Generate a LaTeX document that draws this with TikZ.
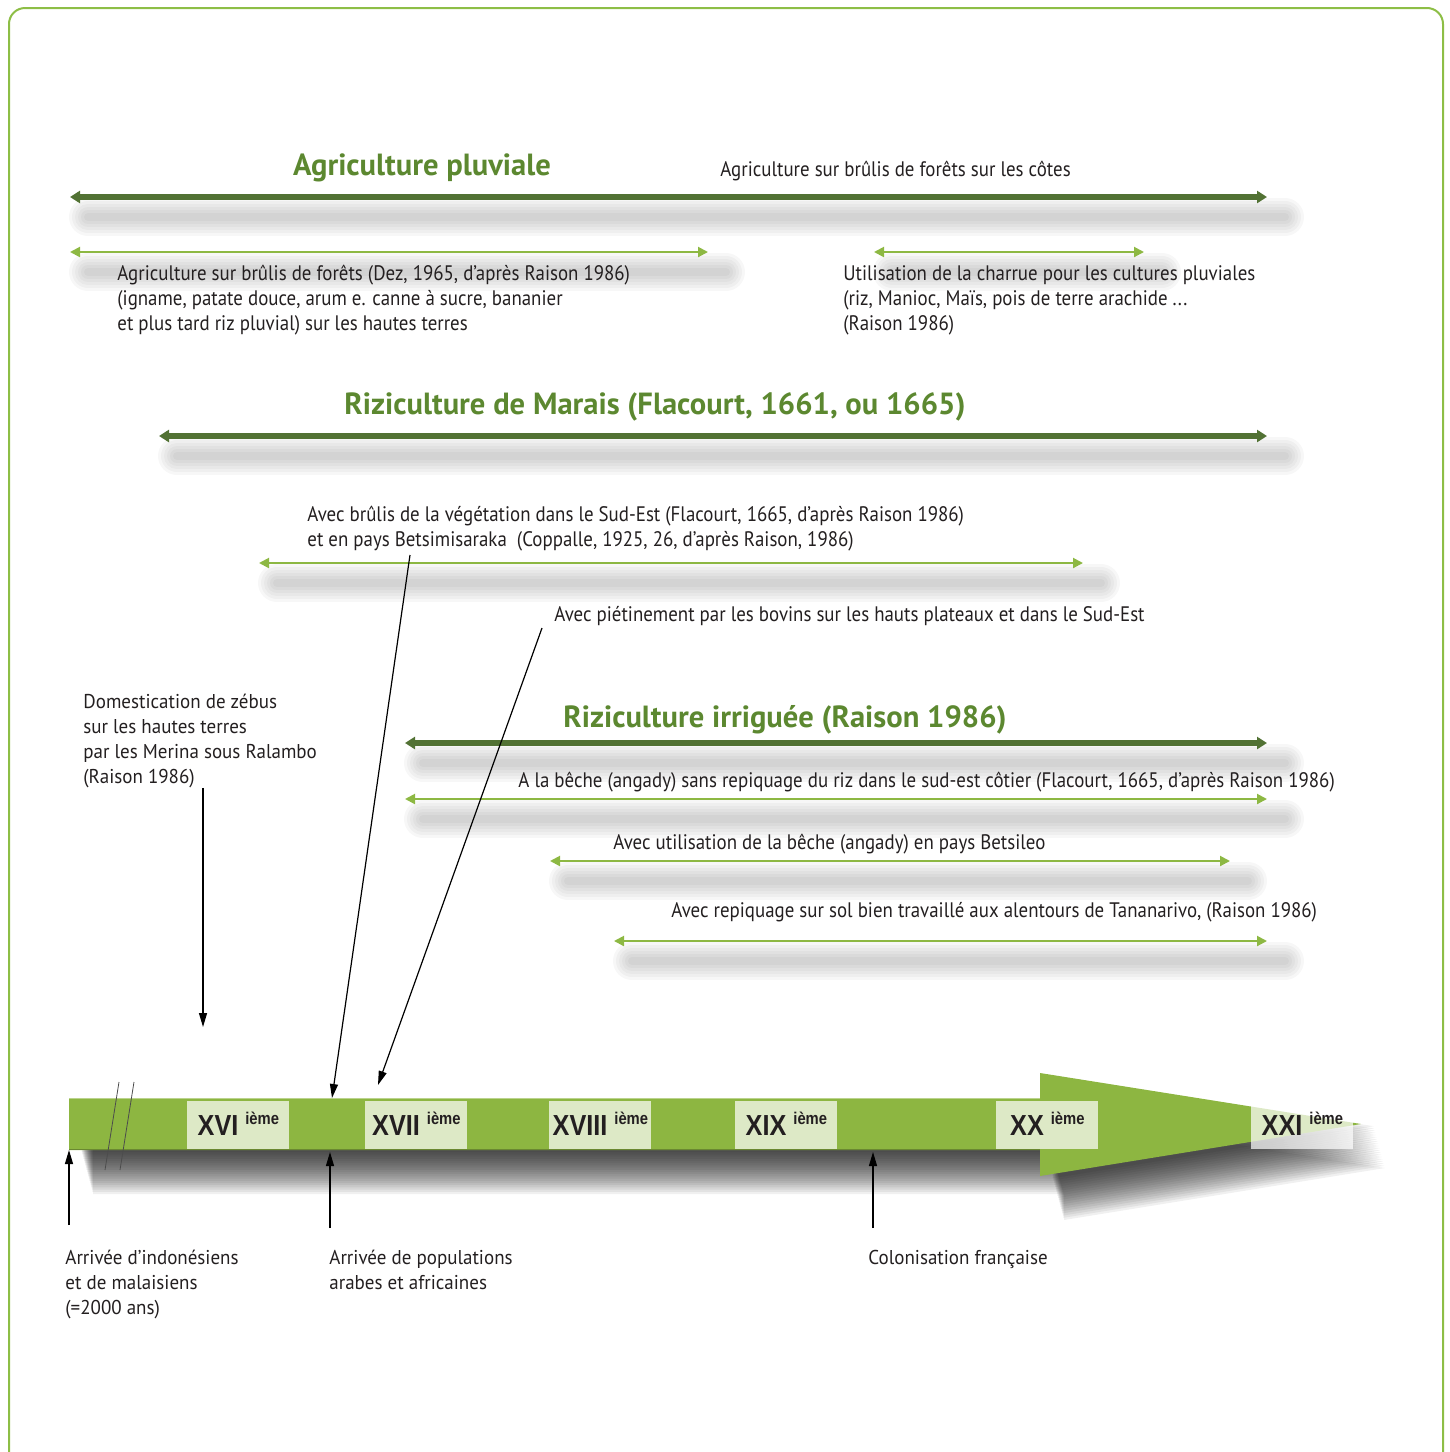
\documentclass[tikz,border=0pt]{standalone}
\usepackage{fontspec}
\setmainfont{PT Sans}
\newfontfamily\condfont[FakeStretch=0.9]{PT Sans}
\newfontfamily\widefont[FakeStretch=0.95]{PT Sans}
\newfontfamily\titlefont{PT Sans}
\newfontfamily\romanfont[FakeStretch=0.87]{Liberation Sans}
\usepackage{tikz}
\usetikzlibrary{arrows.meta,positioning,calc}
\usepackage{xcolor}
\definecolor{agridark}{RGB}{82,114,52}
\definecolor{agrilight}{RGB}{141,184,67}
\definecolor{agrititle}{RGB}{92,136,48}
\definecolor{agribar}{RGB}{141,182,65}
\definecolor{agriframe}{RGB}{141,190,70}
\definecolor{agritext}{RGB}{35,31,32}
\tikzset{
    darkspan/.style={line width=2.6pt, agridark, {Triangle[length=5pt,width=6pt]}-{Triangle[length=5pt,width=6pt]}},
    lightspan/.style={line width=1pt, agrilight, {Triangle[length=5pt,width=5pt]}-{Triangle[length=5pt,width=5pt]}},
    title/.style={font=\titlefont\bfseries\fontsize{15.3}{17}\selectfont, text=agrititle, anchor=base, inner sep=0},
    note/.style={font=\condfont\fontsize{10.5}{12.5}\selectfont, text=agritext, align=left, anchor=base west, inner sep=0},
    plainnote/.style={font=\widefont\fontsize{10}{12.5}\selectfont, text=agritext, align=left, anchor=base west, inner sep=0},
    century/.style={rectangle, fill=white, fill opacity=0.7, text opacity=1, minimum width=51pt, minimum height=24pt, anchor=north west, inner sep=0, text=agritext, font=\romanfont\bfseries\fontsize{14.5}{14.5}\selectfont},
    pointer/.style={line width=0.6pt, black, -{Triangle[length=7pt,width=4pt]}},
}
\newcommand{\ieme}{\smash{\raisebox{5.5pt}{\fontsize{8.5}{8.5}\selectfont i\`eme}}}
\newcommand{\spanshadow}[3]{%
    \foreach \w in {19pt,16pt,13pt,10pt,7pt,4pt}
        \draw[line width=\w, black, opacity=0.03, line cap=round] (#1+18,#3+20) -- (#2+18,#3+20);
}

\begin{document}
\begin{tikzpicture}[x=0.5pt, y=-0.5pt]
    \useasboundingbox (0,0) rectangle (1450,1452);
    \draw[agriframe, line width=1pt, rounded corners=8pt] (9,8) rectangle (1443,1470);

    % Agriculture pluviale
    \spanshadow{70}{1267}{197}
    \spanshadow{70}{708}{252}
    \spanshadow{874}{1144}{252}
    \node[title] (pluv) at (422,175) {Agriculture pluviale};
    \node[note] (cotes) at (720,176) {Agriculture sur brûlis de forêts sur les côtes};
    \draw[darkspan] (70,197) -- (1267,197);
    \draw[lightspan] (70,252) -- (708,252);
    \draw[lightspan] (874,252) -- (1144,252);
    \node[note] (hautes) at (117,330) {Agriculture sur brûlis de forêts (Dez, 1965, d’après Raison 1986)\\(igname, patate douce, arum e. canne à sucre, bananier\\et plus tard riz pluvial) sur les hautes terres};
    \node[note] (charrue) at (843,330) {Utilisation de la charrue pour les cultures pluviales\\(riz, Manioc, Maïs, pois de terre arachide ...\\(Raison 1986)};

    % Riziculture de marais
    \spanshadow{159}{1267}{436}
    \spanshadow{259}{1083}{563}
    \node[title] (marais) at (655,414) {Riziculture de Marais (Flacourt, 1661, ou 1665)};
    \draw[darkspan] (159,436) -- (1267,436);
    \node[note] (brulis) at (307,546) {Avec brûlis de la végétation dans le Sud-Est (Flacourt, 1665, d’après Raison 1986)\\et en pays Betsimisaraka\ \ (Coppalle, 1925, 26, d’après Raison, 1986)};
    \draw[lightspan] (259,563) -- (1083,563);
    \node[note] (bovins) at (554,621) {Avec piétinement par les bovins sur les hauts plateaux et dans le Sud-Est};

    % Riziculture irriguee
    \spanshadow{405}{1267}{743}
    \spanshadow{405}{1267}{799}
    \spanshadow{550}{1230}{861}
    \spanshadow{614}{1267}{941}
    \node[title] (irrig) at (785,727) {Riziculture irriguée (Raison 1986)};
    \draw[darkspan] (405,743) -- (1267,743);
    \node[note] (beche) at (518,787) {A la bêche (angady) sans repiquage du riz dans le sud-est côtier (Flacourt, 1665, d’après Raison 1986)};
    \draw[lightspan] (405,799) -- (1267,799);
    \node[note] (betsileo) at (613,849) {Avec utilisation de la bêche (angady) en pays Betsileo};
    \draw[lightspan] (550,861) -- (1230,861);
    \node[note] (repiq) at (671,917) {Avec repiquage sur sol bien travaillé aux alentours de Tananarivo, (Raison 1986)};
    \draw[lightspan] (614,941) -- (1267,941);

    \node[plainnote] (zebu) at (83,783) {Domestication de zébus\\sur les hautes terres\\par les Merina sous Ralambo\\(Raison 1986)};

    % Time line
    \foreach \i in {1,...,20} {
        \fill[black, opacity=0.06, shift={(12+0.6*\i,2.2*\i)}]
            (69,1098) -- (1040,1098) -- (1040,1073) -- (1361,1124) -- (1040,1176) -- (1040,1150) -- (69,1150) -- cycle;
    }
    \fill[agribar] (69,1098) -- (1040,1098) -- (1040,1073) -- (1361,1124) -- (1040,1176) -- (1040,1150) -- (69,1150) -- cycle;
    \draw[agribar!60!white, line width=0.6pt] (69,1098.5) -- (1040,1098.5);
    \draw[agribar!75!black, line width=0.6pt] (69,1149.5) -- (1040,1149.5);
    \draw[black!70, line width=0.4pt] (119,1082) -- (105,1170);
    \draw[black!70, line width=0.4pt] (134,1082) -- (120,1170);
    \foreach \x/\name/\lbl in {187/c16/XVI, 365/c17/XVII, 549/c18/XVIII, 735/c19/XIX, 996/c20/XX, 1251/c21/XXI}
        \node[century] (\name) at (\x,1101) {\lbl\ \ieme};

    % Pointers
    \coordinate (brulisFrom) at (410,555);
    \coordinate (brulisTo) at (332,1098);
    \coordinate (bovinsFrom) at (542,628);
    \coordinate (bovinsTo) at (378,1085);
    \coordinate (zebuTo) at (203,1027);
    \draw[pointer] (brulisFrom) -- (brulisTo);
    \draw[pointer] (bovinsFrom) -- (bovinsTo);
    \draw[pointer] (zebu.south -| zebuTo) -- (zebuTo);

    \coordinate (indoFrom) at (69,1225);
    \coordinate (indoTo) at (69,1150);
    \coordinate (arabFrom) at (330,1228);
    \coordinate (arabTo) at (330,1152);
    \coordinate (coloFrom) at (873,1228);
    \coordinate (coloTo) at (873,1152);
    \draw[pointer] (indoFrom) -- (indoTo);
    \draw[pointer] (arabFrom) -- (arabTo);
    \draw[pointer] (coloFrom) -- (coloTo);

    \node[plainnote] (indo) at (65,1314) {Arrivée d’indonésiens\\et de malaisiens\\(=2000 ans)};
    \node[plainnote] (arab) at (329,1289) {Arrivée de populations\\arabes et africaines};
    \node[plainnote] (colo) at (868,1264) {Colonisation française};
\end{tikzpicture}
\end{document}
